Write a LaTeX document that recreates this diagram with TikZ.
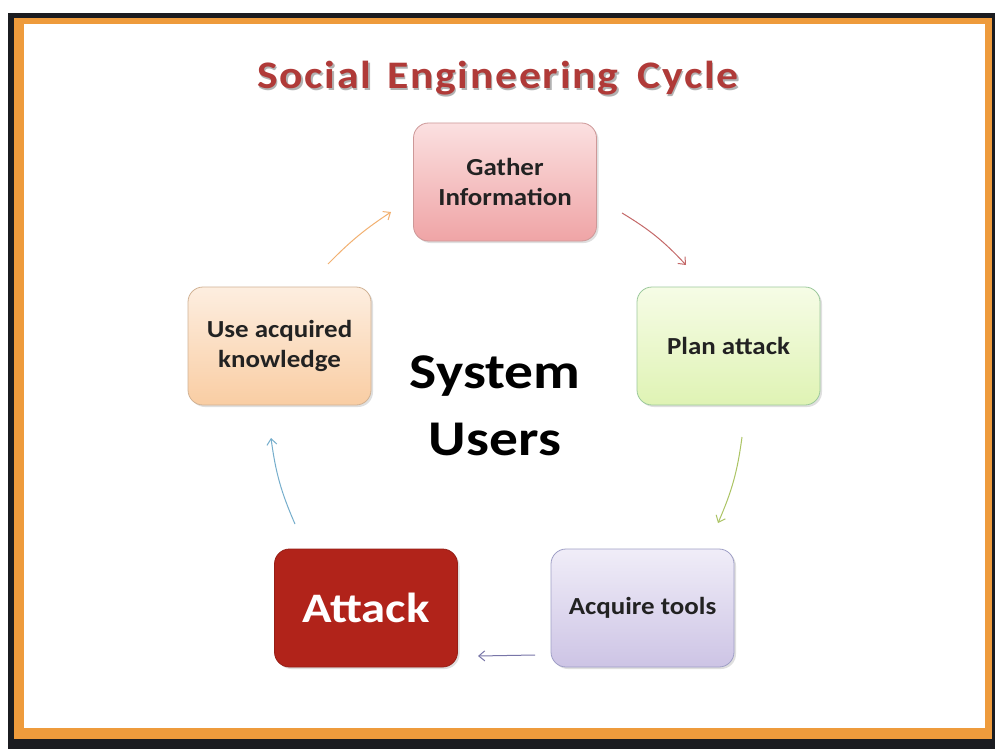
\documentclass[tikz,border=0pt]{standalone}
\usepackage{fontspec}
\usepackage{graphicx}
\setmainfont{Carlito}
\usetikzlibrary{arrows.meta,shadows,calc}

\definecolor{frameDark}{HTML}{1B1C20}
\definecolor{frameOrange}{HTML}{EE9B3C}
\definecolor{titleRed}{HTML}{B03A38}
\definecolor{attackRed}{HTML}{B1231A}
\definecolor{inkDark}{HTML}{222222}

% horizontally widened lettering
\newcommand\widetxt[2][1.1]{\scalebox{#1}[1]{#2}}
\newcommand\titletext{\widetxt[1.12]{Social\hspace{14pt}Engineering\hspace{17pt}Cycle}}

\tikzset{
  stage/.style={draw, line width=0.8pt, rounded corners=15pt,
    minimum width=183pt, minimum height=118pt, align=center,
    text=inkDark, font=\bfseries\fontsize{24.5}{30}\selectfont,
    drop shadow={shadow xshift=2pt, shadow yshift=-2pt, opacity=0.25}},
  flow/.style={line width=1pt, -{Straight Barb[length=6pt,width=10pt]}},
  headline/.style={font=\bfseries\fontsize{39}{46}\selectfont\addfontfeatures{LetterSpace=4}},
}

\begin{document}
\begin{tikzpicture}[x=1pt,y=-1pt]
  % canvas and framed slide
  \fill[white] (0,0) rectangle (995,749);
  \useasboundingbox (0,0) rectangle (995,749);
  \fill[frameDark] (8,13) rectangle (995,749);
  \fill[frameOrange] (14,18) rectangle (992,739);
  \fill[white] (24,24) rectangle (985,728);

  % title with soft shadow
  \node[headline, text=black!30] at (499.5,80.5) {\titletext};
  \node (title) [headline, text=titleRed] at (498,78) {\titletext};

  % the five stages
  \node (gather) [stage, draw=red!35!gray!60, top color={rgb,255:red,251;green,224;blue,224}, bottom color={rgb,255:red,239;green,164;blue,166}] at (505,182) {\widetxt{Gather}\\\widetxt{Information}};
  \node (plan) [stage, draw=green!30!gray!60, top color={rgb,255:red,246;green,252;blue,230}, bottom color={rgb,255:red,223;green,243;blue,180}] at (728.5,346) {\widetxt{Plan attack}};
  \node (tools) [stage, draw=blue!25!gray!60, top color={rgb,255:red,240;green,237;blue,248}, bottom color={rgb,255:red,205;green,196;blue,229}] at (642.5,608) {\widetxt{Acquire tools}};
  \node (attack) [stage, draw=attackRed!85!black, fill=attackRed, text=white, font=\bfseries\fontsize{42}{50}\selectfont] at (366,608) {\widetxt[1.16]{Attack}};
  \node (use) [stage, draw=orange!40!gray!60, top color={rgb,255:red,253;green,238;blue,224}, bottom color={rgb,255:red,249;green,205;blue,163}] at (279.5,346) {\widetxt{Use acquired}\\\widetxt{knowledge}};

  % centre label
  \node (users) [align=center, text=black, font=\bfseries\fontsize{50}{67}\selectfont] at (495,406) {\widetxt[1.15]{System}\\\widetxt[1.15]{Users}};

  % connector end points
  \coordinate (g2p-a) at (622,213);
  \coordinate (g2p-b) at (686,265);
  \coordinate (p2t-a) at (742,437);
  \coordinate (p2t-b) at (718,523);
  \coordinate (t2a-a) at (535,655);
  \coordinate (t2a-b) at (478,656);
  \coordinate (a2u-a) at (295,524);
  \coordinate (a2u-b) at (271,438);
  \coordinate (u2g-a) at (328,264);
  \coordinate (u2g-b) at (391,212);

  % cycle arrows
  \draw[flow, draw={rgb,255:red,196;green,104;blue,104}] (g2p-a) to[bend left=8] (g2p-b);
  \draw[flow, draw={rgb,255:red,172;green,196;blue,100}] (p2t-a) to[bend left=8] (p2t-b);
  \draw[flow, draw={rgb,255:red,120;green,118;blue,168}] (t2a-a) to (t2a-b);
  \draw[flow, draw={rgb,255:red,118;green,174;blue,204}] (a2u-a) to[bend left=8] (a2u-b);
  \draw[flow, draw={rgb,255:red,242;green,176;blue,112}] (u2g-a) to[bend left=6] (u2g-b);
\end{tikzpicture}
\end{document}
